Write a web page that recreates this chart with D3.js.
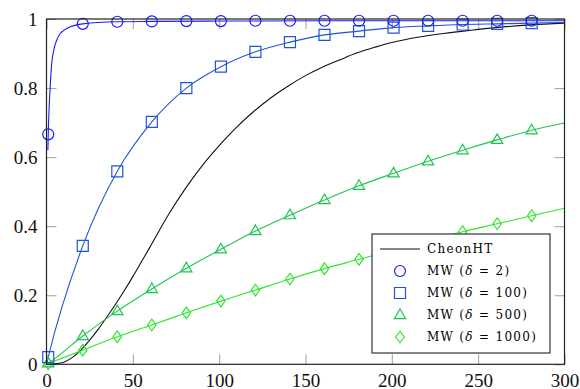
<!DOCTYPE html>
<html>
<head>
<meta charset="utf-8">
<script src="https://cdn.jsdelivr.net/npm/d3@7"></script>
<style>
  body { margin: 0; background: #fff; }
  svg text { font-family: "Liberation Serif", "DejaVu Serif", serif; }
</style>
</head>
<body>
<div id="chart"></div>
<script>
// tick values
const xTicks = [0, 50, 100, 150, 200, 250, 300];
const yTicks = [0, 0.2, 0.4, 0.6, 0.8, 1];

// x positions of the markers
const markerX = [1, 21, 41, 61, 81, 101, 121, 141, 161, 181, 201, 221, 241, 261, 281];

// MW (delta = 2): marker values and the denser line underneath
const mw2Marks = [0.666, 0.986, 0.992, 0.993, 0.994, 0.994, 0.995, 0.995, 0.995, 0.995, 0.995, 0.995, 0.995, 0.995, 0.995];
const mw2LineX = [0.8, 1, 1.5, 2, 3, 4, 6, 8, 10, 14, 21, 41, 61, 101, 201, 300];
const mw2LineY = [0.62, 0.666, 0.74, 0.79, 0.87, 0.905, 0.94, 0.958, 0.967, 0.978, 0.986, 0.992, 0.993, 0.994, 0.995, 0.995];

// MW (delta = 100), (delta = 500), (delta = 1000): value at x=0, markers, value at x=300
const mw100Marks = [0.021, 0.343, 0.559, 0.702, 0.80, 0.862, 0.905, 0.933, 0.954, 0.965, 0.975, 0.980, 0.984, 0.986, 0.988];
const mw100Ends = [0, 0.99];
const mw500Marks = [0.003, 0.082, 0.154, 0.218, 0.278, 0.333, 0.386, 0.432, 0.476, 0.517, 0.553, 0.588, 0.62, 0.65, 0.678];
const mw500Ends = [0, 0.699];
const mw1000Marks = [0.002, 0.041, 0.080, 0.114, 0.149, 0.183, 0.215, 0.247, 0.277, 0.304, 0.331, 0.358, 0.384, 0.407, 0.430];
const mw1000Ends = [0, 0.452];

// CheonHT curve
const cheonX = [0, 10, 15, 20, 25, 30, 35, 40, 45, 50, 55, 60, 70, 80, 90, 100, 110, 120, 130, 140, 150, 160, 170, 180, 190, 200, 215, 230, 245, 260, 280, 300];
const cheonY = [0, 0.006, 0.02, 0.042, 0.07, 0.102, 0.137, 0.174, 0.213, 0.254, 0.297, 0.34, 0.428, 0.506, 0.574, 0.633, 0.686, 0.732, 0.772, 0.806, 0.836, 0.861, 0.882, 0.902, 0.918, 0.932, 0.947, 0.958, 0.967, 0.975, 0.983, 0.988];

const W = 580, H = 389;
const plot = { left: 46.5, right: 564.5, top: 19, bottom: 364.3 };

const svg = d3.select('#chart').append('svg')
  .attr('width', W)
  .attr('height', H);

const x = d3.scaleLinear().domain([0, 300]).range([plot.left, plot.right]);
const y = d3.scaleLinear().domain([0, 1]).range([plot.bottom, plot.top]);

const tickLen = 10;
const fmt = d => d3.format('~g')(d);

// axes with inner ticks on all four sides
const axes = svg.append('g').attr('class', 'axes');
axes.append('g')
  .attr('transform', `translate(0,${plot.bottom})`)
  .call(d3.axisBottom(x).tickValues(xTicks).tickSize(-tickLen).tickPadding(9).tickFormat(fmt));
axes.append('g')
  .attr('transform', `translate(0,${plot.top})`)
  .call(d3.axisTop(x).tickValues(xTicks).tickSize(-tickLen).tickFormat(''));
axes.append('g')
  .attr('transform', `translate(${plot.left},0)`)
  .call(d3.axisLeft(y).tickValues(yTicks).tickSize(-tickLen).tickPadding(9).tickFormat(fmt));
axes.append('g')
  .attr('transform', `translate(${plot.right},0)`)
  .call(d3.axisRight(y).tickValues(yTicks).tickSize(-tickLen).tickFormat(''));

axes.selectAll('.domain').remove();
axes.selectAll('.tick line').attr('stroke', '#a8a8a8').attr('stroke-width', 1.1);
axes.selectAll('.tick text')
  .attr('fill', '#111')
  .style('font-size', '19px');

const line = d3.line()
  .x(d => x(d[0]))
  .y(d => y(d[1]))
  .curve(d3.curveMonotoneX);

// smoother spline for the CheonHT curve
const smoothLine = d3.line()
  .x(d => x(d[0]))
  .y(d => y(d[1]))
  .curve(d3.curveCatmullRom.alpha(0.5));

svg.append('clipPath').attr('id', 'clip')
  .append('rect')
  .attr('x', plot.left).attr('y', plot.top - 6)
  .attr('width', plot.right - plot.left).attr('height', plot.bottom - plot.top + 12);

const series = [
  { name: 'mw2', color: '#1a1aff', mark: 'circle',
    line: d3.zip(mw2LineX, mw2LineY), marks: d3.zip(markerX, mw2Marks) },
  { name: 'mw100', color: '#1f55d4', mark: 'square',
    line: [[0, mw100Ends[0]], ...d3.zip(markerX, mw100Marks), [300, mw100Ends[1]]], marks: d3.zip(markerX, mw100Marks) },
  { name: 'mw500', color: '#1dc650', mark: 'triangle',
    line: [[0, mw500Ends[0]], ...d3.zip(markerX, mw500Marks), [300, mw500Ends[1]]], marks: d3.zip(markerX, mw500Marks) },
  { name: 'mw1000', color: '#2ee62e', mark: 'diamond',
    line: [[0, mw1000Ends[0]], ...d3.zip(markerX, mw1000Marks), [300, mw1000Ends[1]]], marks: d3.zip(markerX, mw1000Marks) }
];

function markPath(type) {
  if (type === 'square') return 'M-5.5,-5.5H5.5V5.5H-5.5Z';
  if (type === 'triangle') return 'M0,-6L5.6,3.6H-5.6Z';
  if (type === 'diamond') return 'M0,-5.8L4.2,0L0,5.8L-4.2,0Z';
}

function drawMark(g, type, color) {
  if (type === 'circle') {
    g.append('circle').attr('r', 5.5)
      .attr('fill', 'none').attr('stroke', color).attr('stroke-width', 1.2);
  } else {
    g.append('path').attr('d', markPath(type))
      .attr('fill', 'none').attr('stroke', color).attr('stroke-width', 1.2);
  }
}

const plotG = svg.append('g').attr('clip-path', 'url(#clip)');

// CheonHT line
plotG.append('path')
  .datum(d3.zip(cheonX, cheonY))
  .attr('d', smoothLine)
  .attr('fill', 'none')
  .attr('stroke', '#111')
  .attr('stroke-width', 1.1);

series.slice().reverse().forEach(s => {
  plotG.append('path')
    .datum(s.line)
    .attr('d', line)
    .attr('fill', 'none')
    .attr('stroke', s.color)
    .attr('stroke-width', 1.1);
  s.marks.forEach(d => {
    const g = svg.append('g').attr('transform', `translate(${x(d[0])},${y(d[1])})`);
    drawMark(g, s.mark, s.color);
  });
});

// axis box
svg.append('rect')
  .attr('x', plot.left).attr('y', plot.top)
  .attr('width', plot.right - plot.left).attr('height', plot.bottom - plot.top)
  .attr('fill', 'none')
  .attr('stroke', '#222')
  .attr('stroke-width', 1.2);

// legend
const legend = svg.append('g').attr('transform', 'translate(372,234)');
legend.append('rect')
  .attr('width', 178).attr('height', 119)
  .attr('fill', '#fff')
  .attr('stroke', '#333')
  .attr('stroke-width', 1.2);

const legendLabels = ['2', '100', '500', '1000'];
const rowY = i => 15 + i * 22;

legend.append('line')
  .attr('x1', 8).attr('x2', 48).attr('y1', rowY(0)).attr('y2', rowY(0))
  .attr('stroke', '#111').attr('stroke-width', 1.1);
legend.append('text')
  .attr('x', 55).attr('y', rowY(0) + 4)
  .style('font-family', '"DejaVu Serif", serif')
  .style('font-size', '12px')
  .style('letter-spacing', '1.3px')
  .text('CheonHT');

series.forEach((s, i) => {
  const g = legend.append('g').attr('transform', `translate(28,${rowY(i + 1)})`);
  drawMark(g, s.mark, s.color);
  const t = legend.append('text')
    .attr('x', 55).attr('y', rowY(i + 1) + 4)
    .style('font-family', '"DejaVu Serif", serif')
    .style('font-size', '12px')
    .style('letter-spacing', '1.3px');
  t.append('tspan').text('MW (');
  t.append('tspan').style('font-style', 'italic').text('δ');
  t.append('tspan').text(' = ' + legendLabels[i] + ')');
});
</script>
</body>
</html>
